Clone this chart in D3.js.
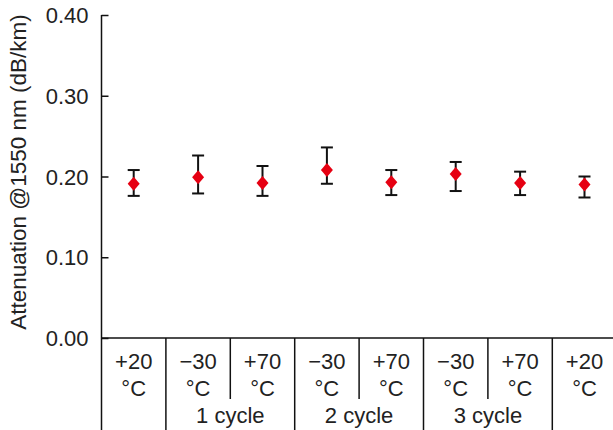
<!DOCTYPE html>
<html>
<head>
<meta charset="utf-8">
<script src="https://cdn.jsdelivr.net/npm/d3@7"></script>
<style>
  body { margin: 0; background: #fff; }
  text { font-family: "Liberation Sans", Arial, sans-serif; fill: #222; }
</style>
</head>
<body>
<div id="chart"></div>
<script>
var temps = ['+20', '\u221230', '+70', '\u221230', '+70', '\u221230', '+70', '+20'];
var cycles = ['', '1 cycle', '1 cycle', '2 cycle', '2 cycle', '3 cycle', '3 cycle', ''];
var means = [0.191, 0.199, 0.192, 0.208, 0.193, 0.203, 0.192, 0.190];
var upper = [0.208, 0.226, 0.213, 0.236, 0.208, 0.218, 0.206, 0.200];
var lower = [0.176, 0.179, 0.176, 0.191, 0.177, 0.182, 0.177, 0.174];
var yTicks = [0, 0.1, 0.2, 0.3, 0.4];

var width = 613, height = 430;
var plotLeft = 101.5, plotTop = 15, plotBottom = 338;
var step = 64.4;

var svg = d3.select('#chart').append('svg')
    .attr('width', width)
    .attr('height', height);

var idx = d3.range(temps.length);

var x = d3.scaleBand()
    .domain(idx)
    .range([plotLeft, plotLeft + step * temps.length])
    .padding(0);

var y = d3.scaleLinear()
    .domain([0, 0.4])
    .range([plotBottom, plotTop]);

// y axis, ticks pointing inward
var yAxis = d3.axisRight(y)
    .tickValues(yTicks)
    .tickSize(7)
    .tickFormat(d3.format('.2f'));

var yg = svg.append('g')
    .attr('transform', 'translate(' + plotLeft + ',0)')
    .call(yAxis);
yg.select('.domain').attr('stroke', '#111').attr('stroke-width', 1.5).attr('d', 'M0,' + plotTop + 'V' + height);
yg.selectAll('.tick line').attr('stroke', '#111').attr('stroke-width', 1.5);
yg.selectAll('.tick text')
    .attr('x', -13)
    .attr('dy', '0.35em')
    .attr('text-anchor', 'end')
    .style('font-size', '22px')
    .style('font-family', '"Liberation Sans", Arial, sans-serif')
    .attr('fill', '#222');

svg.append('text')
    .attr('transform', 'translate(26,172) rotate(-90)')
    .attr('text-anchor', 'middle')
    .style('font-size', '22.5px')
    .text('Attenuation @1550 nm (dB/km)');

// x axis baseline
svg.append('line')
    .attr('x1', plotLeft).attr('x2', width)
    .attr('y1', plotBottom).attr('y2', plotBottom)
    .attr('stroke', '#111').attr('stroke-width', 1.5);

// category dividers
idx.slice(1).forEach(function (i) {
    var full = (i % 2 === 1);
    svg.append('line')
        .attr('x1', x(i)).attr('x2', x(i))
        .attr('y1', plotBottom).attr('y2', full ? height : 399)
        .attr('stroke', '#111').attr('stroke-width', 1.5);
});

// category labels
var cat = svg.append('g').selectAll('g').data(idx).enter().append('g')
    .attr('transform', function (i) { return 'translate(' + (x(i) + x.bandwidth() / 2) + ',0)'; });
cat.append('text')
    .attr('y', 369)
    .attr('text-anchor', 'middle')
    .style('font-size', '22px')
    .text(function (i) { return temps[i]; });
cat.append('text')
    .attr('y', 396)
    .attr('text-anchor', 'middle')
    .style('font-size', '22px')
    .text('\u00b0C');

// cycle labels
[1, 3, 5].forEach(function (i) {
    svg.append('text')
        .attr('x', x(i + 1))
        .attr('y', 423)
        .attr('text-anchor', 'middle')
        .style('font-size', '22px')
        .text(cycles[i]);
});

// error bars
var cx = function (i) { return x(i) + x.bandwidth() / 2; };
var eb = svg.append('g').attr('stroke', '#111').attr('stroke-width', 2);
idx.forEach(function (i) {
    eb.append('line').attr('x1', cx(i)).attr('x2', cx(i)).attr('y1', y(upper[i])).attr('y2', y(lower[i]));
    eb.append('line').attr('x1', cx(i) - 6).attr('x2', cx(i) + 6).attr('y1', y(upper[i])).attr('y2', y(upper[i]));
    eb.append('line').attr('x1', cx(i) - 6).attr('x2', cx(i) + 6).attr('y1', y(lower[i])).attr('y2', y(lower[i]));
});

// diamonds
svg.append('g').selectAll('path').data(idx).enter().append('path')
    .attr('d', 'M0,-7L6,0L0,7L-6,0Z')
    .attr('transform', function (i) { return 'translate(' + cx(i) + ',' + y(means[i]) + ')'; })
    .attr('fill', '#e60012');
</script>
</body>
</html>
